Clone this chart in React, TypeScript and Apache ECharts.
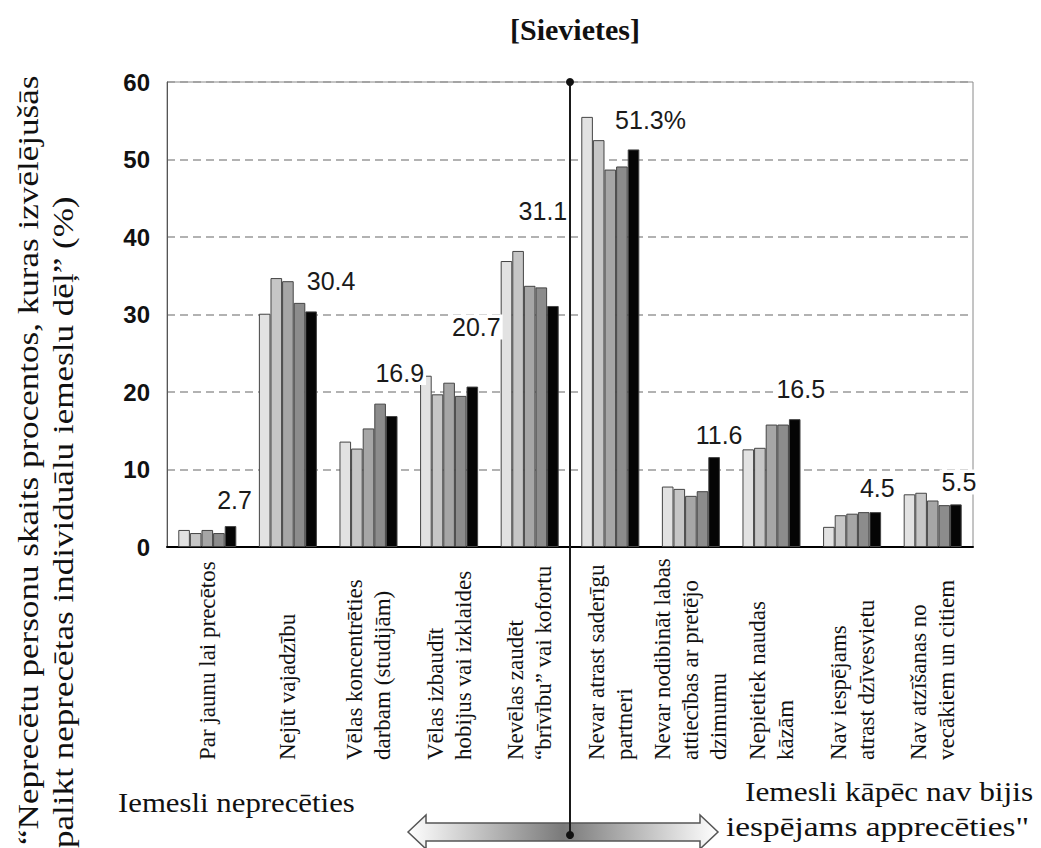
import React, { useEffect, useRef } from "react";
import * as echarts from "echarts";

const categories = [
  "Par jaunu lai precētos",
  "Nejūt vajadzību",
  "Vēlas koncentrēties\ndarbam (studijām)",
  "Vēlas izbaudīt\nhobijus vai izklaides",
  "Nevēlas zaudēt\n“brīvību” vai kofortu",
  "Nevar atrast saderīgu\npartneri",
  "Nevar nodibināt labas\nattiecības ar pretējo\ndzimumu",
  "Nepietiek naudas\nkāzām",
  "Nav iespējams\natrast dzīvesvietu",
  "Nav atzīšanas no\nvecākiem un citiem",
];

const seriesNames = ["1987", "1992", "1997", "2002", "2005"];
const values1987 = [2.2, 30.1, 13.6, 22.1, 36.9, 55.5, 7.8, 12.6, 2.6, 6.8];
const values1992 = [1.8, 34.7, 12.7, 19.7, 38.2, 52.5, 7.5, 12.8, 4.1, 7.0];
const values1997 = [2.2, 34.3, 15.3, 21.2, 33.7, 48.7, 6.6, 15.8, 4.3, 6.0];
const values2002 = [1.8, 31.5, 18.5, 19.5, 33.5, 49.1, 7.2, 15.8, 4.5, 5.4];
const values2005 = [2.7, 30.4, 16.9, 20.7, 31.1, 51.3, 11.6, 16.5, 4.5, 5.5];
const allValues = [values1987, values1992, values1997, values2002, values2005];

const barColors = ["#e2e2e2", "#c6c6c6", "#a6a6a6", "#8c8c8c", "#050505"];
// label offsets (layout) for the labelled last series
const labelOffsets: [number, number][] = [
  [4, -9], [20, -13], [8, -26], [4, -42], [-10, -77],
  [17, -12], [5, -5], [6, -13], [2, -7], [3, -5],
];

const W = 1041;
const H = 848;
const GRID_LEFT = 167;
const GRID_RIGHT = 68;
const GRID_TOP = 82;
const GRID_BOTTOM = 301;

const serif = "'Liberation Serif', 'Times New Roman', 'DejaVu Serif', serif";

export default function App() {
  const ref = useRef<HTMLDivElement>(null);
  useEffect(() => {
    if (!ref.current) return;
    const chart = echarts.init(ref.current, null, { renderer: "svg" });
    const plotW = W - GRID_LEFT - GRID_RIGHT;
    const catW = plotW / categories.length;
    const divX = GRID_LEFT + catW * 5;

    const series: any[] = allValues.map((vals, si) => ({
      name: seriesNames[si],
      type: "bar",
      barGap: "0%",
      barCategoryGap: "28%",
      itemStyle: { color: barColors[si], borderColor: "#444", borderWidth: 1 },
      data:
        si === 4
          ? vals.map((v, i) => ({ value: v, label: { offset: labelOffsets[i] } }))
          : vals,
      label:
        si === 4
          ? {
              show: true,
              position: "top",
              distance: 5,
              fontFamily: "Liberation Sans",
              fontSize: 25,
              color: "#1a1a1a",
              backgroundColor: "#fff",
              padding: [0, 2],
              formatter: (p: any) => (p.dataIndex === 5 ? `${p.value}%` : `${p.value}`),
            }
          : { show: false },
      z: 3,
    }));

    const arrowY = 832;
    const arrowL = 408;
    const arrowR = 718;
    const head = 18;

    const txt = (text: string, x: number, y: number, size: number, extra: any = {}) => ({
      type: "text",
      x,
      y,
      rotation: extra.rotation || 0,
      scaleX: extra.scaleX || 1,
      style: {
        text,
        fontFamily: serif,
        fontSize: size,
        fontWeight: extra.weight || "normal",
        fill: "#111",
        textAlign: extra.align || "left",
        textVerticalAlign: "middle",
      },
    });

    chart.setOption({
      animation: false,
      backgroundColor: "#fff",
      grid: {
        left: GRID_LEFT,
        right: GRID_RIGHT,
        top: GRID_TOP,
        bottom: GRID_BOTTOM,
        show: true,
        borderColor: "#8a8a8a",
        borderWidth: 1,
      },
      xAxis: {
        type: "category",
        data: categories,
        axisLine: { show: true, lineStyle: { color: "#000", width: 2 } },
        axisTick: { show: false },
        axisLabel: {
          interval: 0,
          rotate: 90,
          margin: 213,
          align: "left",
          verticalAlign: "middle",
          fontFamily: serif,
          fontSize: 23,
          lineHeight: 28,
          color: "#111",
        },
      },
      yAxis: {
        type: "value",
        min: 0,
        max: 60,
        interval: 10,
        axisLine: { show: true, lineStyle: { color: "#555", width: 1 } },
        axisTick: { show: false },
        axisLabel: {
          margin: 17,
          fontFamily: "Liberation Sans",
          fontWeight: "bold",
          fontSize: 24,
          color: "#111",
        },
        splitLine: {
          show: true,
          lineStyle: { color: "#999", width: 1.5, type: [8, 5] },
        },
      },
      series,
      graphic: [
        txt("[Sievietes]", 575, 29, 30, { weight: "bold", align: "center" }),
        txt("“Neprecētu personu skaits procentos, kuras izvēlējušās", 28, 845, 30, {
          rotation: Math.PI / 2,
          scaleX: 1.17,
        }),
        txt("palikt neprecētas individuālu iemeslu dēļ” (%)", 63, 848, 30, {
          rotation: Math.PI / 2,
          scaleX: 1.17,
        }),
        txt("Iemesli neprecēties", 118, 802, 28, { scaleX: 1.1 }),
        txt("Iemesli kāpēc nav bijis", 745, 792, 28, { scaleX: 1.12 }),
        txt("iespējams apprecēties\"", 726, 827, 28, { scaleX: 1.19 }),
        {
          type: "polygon",
          shape: {
            points: [
              [arrowL, arrowY],
              [arrowL + head, arrowY - 17],
              [arrowL + head, arrowY - 9],
              [arrowR - head, arrowY - 9],
              [arrowR - head, arrowY - 17],
              [arrowR, arrowY],
              [arrowR - head, arrowY + 17],
              [arrowR - head, arrowY + 9],
              [arrowL + head, arrowY + 9],
              [arrowL + head, arrowY + 17],
            ],
          },
          style: {
            fill: new echarts.graphic.LinearGradient(0, 0, 1, 0, [
              { offset: 0, color: "#ffffff" },
              { offset: 0.5, color: "#7a7a7a" },
              { offset: 1, color: "#ffffff" },
            ]),
            stroke: "#555",
            lineWidth: 1.5,
          },
          z: 5,
        },
        {
          type: "line",
          shape: { x1: divX, y1: GRID_TOP, x2: divX, y2: 835 },
          style: { stroke: "#1a1a1a", lineWidth: 2 },
          z: 10,
        },
        {
          type: "circle",
          shape: { cx: divX, cy: GRID_TOP, r: 4 },
          style: { fill: "#111" },
          z: 11,
        },
        {
          type: "circle",
          shape: { cx: divX, cy: 835, r: 4 },
          style: { fill: "#111" },
          z: 11,
        },
      ],
    });
    return () => chart.dispose();
  }, []);
  return (
    <div
      ref={ref}
      style={{ position: "fixed", left: 0, top: 0, width: `${W}px`, height: `${H}px` }}
    />
  );
}
